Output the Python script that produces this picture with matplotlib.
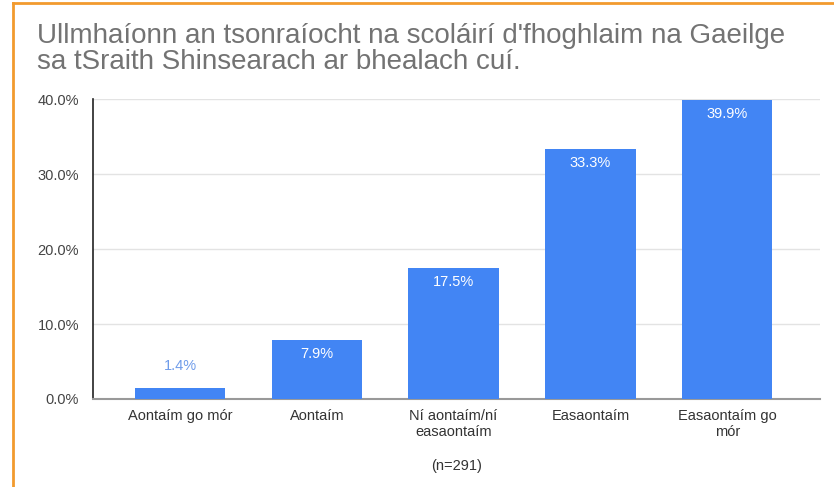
import matplotlib.pyplot as plt
from matplotlib.lines import Line2D

categories = ["Aontaím go mór", "Aontaím", "Ní aontaím/ní\neasaontaím", "Easaontaím", "Easaontaím go\nmór"]
values = [1.4, 7.9, 17.5, 33.3, 39.9]
yticks = [0, 10, 20, 30, 40]
title = "Ullmhaíonn an tsonraíocht na scoláirí d'fhoghlaim na Gaeilge\nsa tSraith Shinsearach ar bhealach cuí."
note = "(n=291)"

bar_color = "#4285f4"

plt.rcParams['font.family'] = ['Liberation Sans', 'DejaVu Sans']

fig = plt.figure(figsize=(8.34, 4.87), dpi=100)
ax = fig.add_axes([0.1115, 0.1807, 0.872, 0.616])

x = range(len(values))
ax.bar(x, values, width=0.66, color=bar_color, zorder=3)
for i, v in enumerate(values):
    if v > 5:
        ax.annotate(f"{v:.1f}%", (i, v), xytext=(0, -5), textcoords="offset points",
                    ha="center", va="top", color="white", fontsize=10.5)
    else:
        ax.annotate(f"{v:.1f}%", (i, v), xytext=(0, 11), textcoords="offset points",
                    ha="center", va="bottom", color="#6f9cea", fontsize=10.5)

ax.set_xlim(-0.636, 4.68)
ax.set_ylim(0, 40)
ax.set_yticks(yticks)
ax.set_yticklabels([f"{t:.1f}%" for t in yticks], color="#444444", fontsize=10.5)
ax.set_xticks(list(x))
ax.set_xticklabels(categories, color="#333333", fontsize=10.5, linespacing=1.25)
ax.tick_params(axis="y", length=0, pad=10)
ax.tick_params(axis="x", length=0, pad=7)
ax.grid(axis="y", color="#e3e3e3", linewidth=1, zorder=0)

for s in ["top", "right"]:
    ax.spines[s].set_visible(False)
ax.spines["left"].set_color("#222222")
ax.spines["left"].set_linewidth(1.2)
ax.spines["bottom"].set_color("#999999")
ax.spines["bottom"].set_linewidth(1.5)

fig.text(37 / 834, 1 - 23 / 487, title, ha="left", va="top", fontsize=20,
         color="#737373", linespacing=0.98)
fig.text(457 / 834, 1 - 466 / 487, note, ha="center", va="center", fontsize=10.5, color="#333333")

# orange frame lines (left and top)
fig.add_artist(Line2D([12.5 / 834, 12.5 / 834], [0, 1 - 3 / 487], transform=fig.transFigure,
                      color="#f29a2e", linewidth=2))
fig.add_artist(Line2D([12.5 / 834, 1], [1 - 3 / 487, 1 - 3 / 487], transform=fig.transFigure,
                      color="#f29a2e", linewidth=2))

fig.savefig("out.png", dpi=100)
